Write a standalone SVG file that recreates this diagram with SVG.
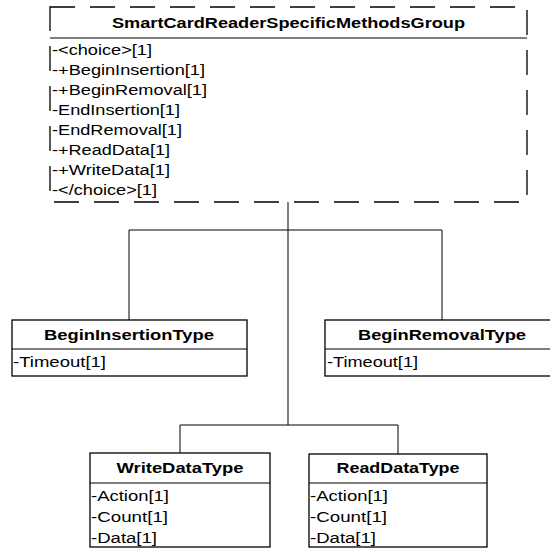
<svg xmlns="http://www.w3.org/2000/svg" width="550" height="548" viewBox="0 0 550 548">
<style>
.box{fill:#fff;stroke:#000;stroke-width:1.3}
.dbox{fill:#fff;stroke:#000;stroke-width:1.3;stroke-dasharray:25 15}
.sep{stroke:#000;stroke-width:1.2}
.t{font-family:"Liberation Sans",Arial,sans-serif;font-size:14px;font-weight:bold;text-anchor:middle;fill:#000}
.a{font-family:"Liberation Sans",Arial,sans-serif;font-size:14px;fill:#000}
.c{fill:none;stroke:#000;stroke-width:1}
</style>
<g id="connectors">
<path class="c" d="M288 202V425" stroke-width="1.4"/>
<path class="c" d="M129 320V230H442V320"/>
<path class="c" d="M180 453V425H398V454"/>
</g>
<g id="SmartCardReaderSpecificMethodsGroup">
<rect class="dbox" x="50" y="7" width="477" height="195"/>
<line class="sep" x1="50" y1="38" x2="527" y2="38"/>
<text class="t" x="288.5" y="28" textLength="353" lengthAdjust="spacingAndGlyphs">SmartCardReaderSpecificMethodsGroup</text>
<text class="a" x="52" y="55" textLength="100" lengthAdjust="spacingAndGlyphs">-&lt;choice&gt;[1]</text>
<text class="a" x="52" y="75" textLength="153" lengthAdjust="spacingAndGlyphs">-+BeginInsertion[1]</text>
<text class="a" x="52" y="95" textLength="155" lengthAdjust="spacingAndGlyphs">-+BeginRemoval[1]</text>
<text class="a" x="52" y="115" textLength="128" lengthAdjust="spacingAndGlyphs">-EndInsertion[1]</text>
<text class="a" x="52" y="135" textLength="130" lengthAdjust="spacingAndGlyphs">-EndRemoval[1]</text>
<text class="a" x="52" y="155" textLength="118" lengthAdjust="spacingAndGlyphs">-+ReadData[1]</text>
<text class="a" x="52" y="175" textLength="118" lengthAdjust="spacingAndGlyphs">-+WriteData[1]</text>
<text class="a" x="52" y="195" textLength="105" lengthAdjust="spacingAndGlyphs">-&lt;/choice&gt;[1]</text>
</g>
<g id="BeginInsertionType">
<rect class="box" x="12" y="320" width="235" height="56"/>
<line class="sep" x1="12" y1="349" x2="247" y2="349"/>
<text class="t" x="129" y="340" textLength="170" lengthAdjust="spacingAndGlyphs">BeginInsertionType</text>
<text class="a" x="13" y="367" textLength="93" lengthAdjust="spacingAndGlyphs">-Timeout[1]</text>
</g>
<g id="BeginRemovalType">
<rect class="box" x="325" y="320" width="235" height="56"/>
<line class="sep" x1="325" y1="349" x2="560" y2="349"/>
<text class="t" x="442" y="340" textLength="168" lengthAdjust="spacingAndGlyphs">BeginRemovalType</text>
<text class="a" x="327" y="367" textLength="91" lengthAdjust="spacingAndGlyphs">-Timeout[1]</text>
</g>
<g id="WriteDataType">
<rect class="box" x="90" y="453" width="180" height="94"/>
<line class="sep" x1="90" y1="483" x2="270" y2="483"/>
<text class="t" x="180" y="473" textLength="127" lengthAdjust="spacingAndGlyphs">WriteDataType</text>
<text class="a" x="91" y="501" textLength="78" lengthAdjust="spacingAndGlyphs">-Action[1]</text>
<text class="a" x="91" y="522" textLength="77" lengthAdjust="spacingAndGlyphs">-Count[1]</text>
<text class="a" x="91" y="543" textLength="66" lengthAdjust="spacingAndGlyphs">-Data[1]</text>
</g>
<g id="ReadDataType">
<rect class="box" x="309" y="454" width="178" height="93"/>
<line class="sep" x1="309" y1="483" x2="487" y2="483"/>
<text class="t" x="398" y="473" textLength="123" lengthAdjust="spacingAndGlyphs">ReadDataType</text>
<text class="a" x="310" y="501" textLength="78" lengthAdjust="spacingAndGlyphs">-Action[1]</text>
<text class="a" x="310" y="522" textLength="77" lengthAdjust="spacingAndGlyphs">-Count[1]</text>
<text class="a" x="310" y="543" textLength="66" lengthAdjust="spacingAndGlyphs">-Data[1]</text>
</g>
</svg>
